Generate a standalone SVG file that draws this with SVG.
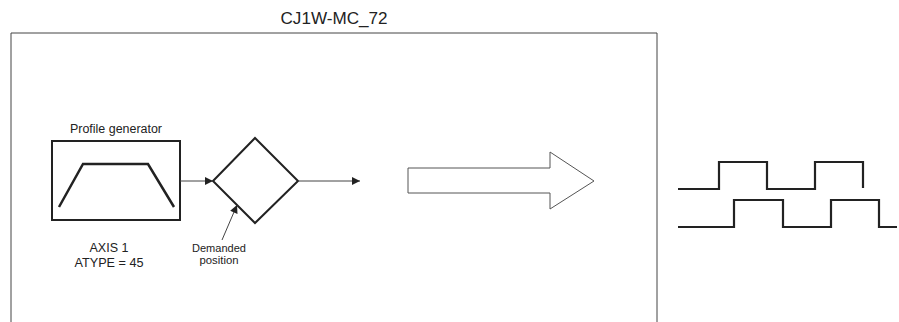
<svg xmlns="http://www.w3.org/2000/svg" width="899" height="322" viewBox="0 0 899 322">
<style>
text{font-family:"Liberation Sans",Arial,sans-serif;fill:#222}
.thin{fill:none;stroke:#444;stroke-width:1}
.bold{fill:none;stroke:#222;stroke-width:2}
.wave{fill:none;stroke:#222;stroke-width:2.2;stroke-linejoin:miter}
</style>
<defs>
<marker id="ah" viewBox="0 0 10 10" refX="10" refY="5" markerWidth="10" markerHeight="8" markerUnits="userSpaceOnUse" orient="auto">
<path d="M0,0 L10,5 L0,10 z" fill="#222"/>
</marker>
</defs>
<rect width="899" height="322" fill="#fff"/>
<g id="frame">
<path class="thin" d="M11,322 V33 H657 V322"/>
<text x="334" y="24" font-size="16" text-anchor="middle" textLength="107" lengthAdjust="spacingAndGlyphs">CJ1W-MC_72</text>
</g>
<g id="profile-generator">
<text x="116" y="133" font-size="12" text-anchor="middle" textLength="92" lengthAdjust="spacingAndGlyphs">Profile generator</text>
<rect x="52" y="141" width="128" height="79" class="bold"/>
<path d="M59,207 L83,164 H148 L174,207" fill="none" stroke="#222" stroke-width="2.5"/>
<text x="109" y="252" font-size="12.3" text-anchor="middle" textLength="39" lengthAdjust="spacingAndGlyphs">AXIS 1</text>
<text x="109" y="267" font-size="12.3" text-anchor="middle" textLength="69" lengthAdjust="spacingAndGlyphs">ATYPE = 45</text>
</g>
<g id="summing-junction">
<path class="bold" d="M213,181 L255,138 L298,181 L255,223 z" stroke-width="1.6"/>
</g>
<g id="demanded-label">
<text x="219" y="252" font-size="10.5" text-anchor="middle" textLength="54" lengthAdjust="spacingAndGlyphs">Demanded</text>
<text x="219" y="264" font-size="10.5" text-anchor="middle" textLength="39" lengthAdjust="spacingAndGlyphs">position</text>
</g>
<g id="big-arrow">
<path d="M408,168 H550 V152 L594,181 L550,209 V193 H408 z" fill="#fff" stroke="#555" stroke-width="1"/>
</g>
<g id="encoder-signals">
<path class="wave" d="M678,189 H719 V162 H767 V189 H815 V162 H863 V188"/>
<path class="wave" d="M678,227 H734 V200 H783 V227 H831 V200 H879 V227 H897"/>
</g>
<g id="connectors">
<line x1="180" y1="181" x2="213" y2="181" class="thin" marker-end="url(#ah)"/>
<line x1="298" y1="181" x2="360" y2="181" class="thin" marker-end="url(#ah)"/>
<line x1="222" y1="240" x2="237" y2="205" class="thin" marker-end="url(#ah)"/>
</g>
</svg>
